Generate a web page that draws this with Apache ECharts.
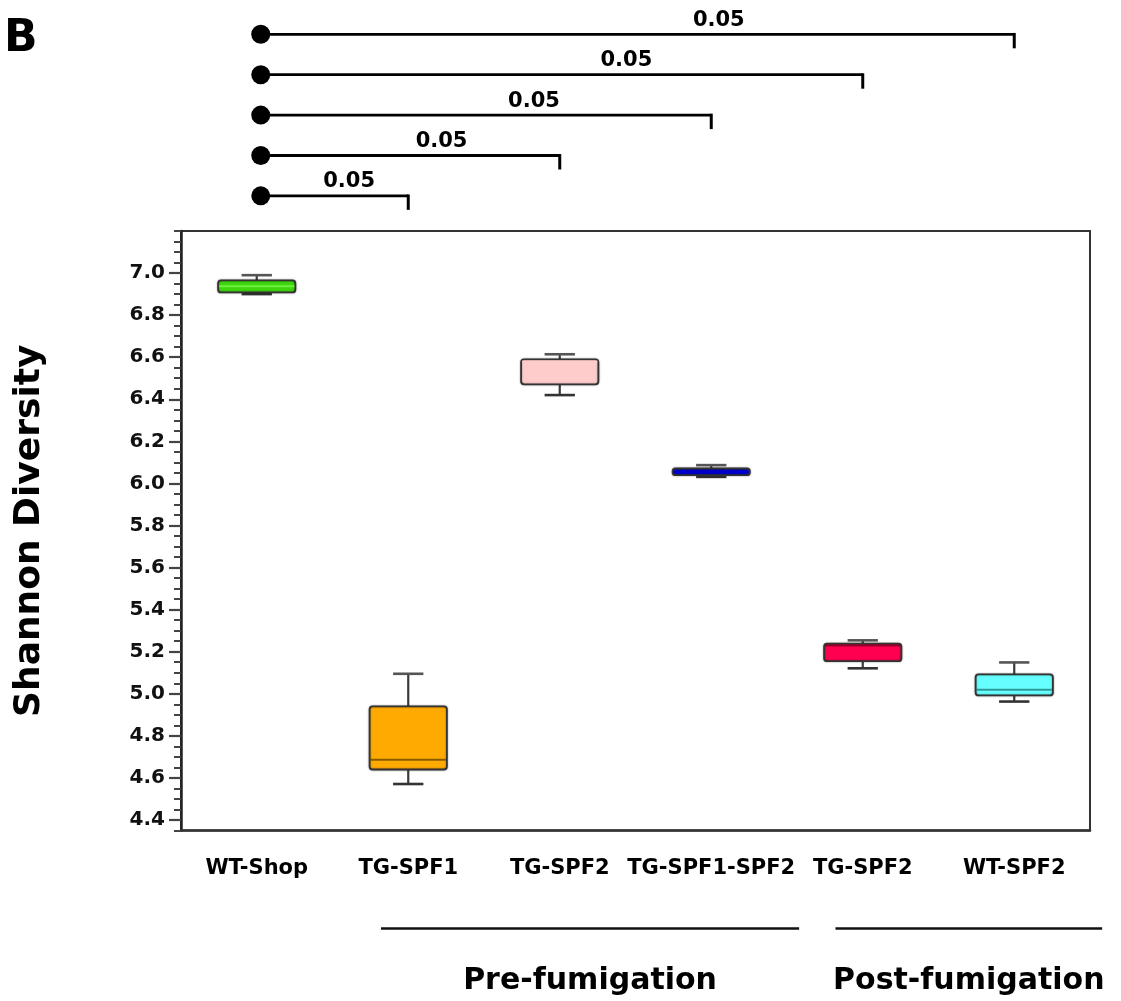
<!DOCTYPE html>
<html>
<head>
<meta charset="utf-8">
<script src="https://cdn.jsdelivr.net/npm/echarts@6/dist/echarts.min.js"></script>
<style>
html,body{margin:0;padding:0;background:#fff;}
#chart{width:1121px;height:1001px;}
</style>
</head>
<body>
<div id="chart"></div>
<script>
// ---- data ----
const categories = ['WT-Shop', 'TG-SPF1', 'TG-SPF2', 'TG-SPF1-SPF2', 'TG-SPF2', 'WT-SPF2'];
const minVals    = [6.900, 4.571, 6.420, 6.031, 5.121, 4.963];
const q1Vals     = [6.908, 4.640, 6.471, 6.039, 5.155, 4.992];
const medianVals = [6.937, 4.686, 6.580, 6.055, 5.230, 5.019];
const q3Vals     = [6.965, 4.940, 6.590, 6.071, 5.238, 5.092];
const maxVals    = [6.990, 5.095, 6.614, 6.087, 5.254, 5.149];
const yTickLabels = [4.4, 4.6, 4.8, 5.0, 5.2, 5.4, 5.6, 5.8, 6.0, 6.2, 6.4, 6.6, 6.8, 7.0];
const yMin = 4.35, yMax = 7.2, yMinorStep = 0.05;
const bracketRef = 0;
const bracketTargets = [5, 4, 3, 2, 1];
const bracketLabels = ['0.05', '0.05', '0.05', '0.05', '0.05'];
const groupNames = ['Pre-fumigation', 'Post-fumigation'];
const groupFrom = [1, 4];
const groupTo = [3, 5];
const panelLabel = 'B';
const yTitle = 'Shannon Diversity';

// ---- styles ----
const boxColors = ['#3fd60f', '#ffaa00', '#ffcccc', '#0000cc', '#ff0050', '#66ffff'];
const medianColors = ['#6cf03c', 'rgba(60,40,0,0.6)', '#ffcccc', '#0000cc', 'rgba(90,0,20,0.6)', 'rgba(0,70,70,0.55)'];
const FONT = 'DejaVu Sans';

const minorTicks = [];
for (let v = yMin; v <= yMax + 1e-9; v += yMinorStep) minorTicks.push(+v.toFixed(2));

const chart = echarts.init(document.getElementById('chart'), null, {renderer: 'canvas'});

function renderBox(params, api) {
  const i = api.value(0);
  const band = api.size([1, 0])[0];
  const bw = band * 0.51, cw = band * 0.2;
  const pMin = api.coord([i, api.value(1)]);
  const pQ1 = api.coord([i, api.value(2)]);
  const pMed = api.coord([i, api.value(3)]);
  const pQ3 = api.coord([i, api.value(4)]);
  const pMax = api.coord([i, api.value(5)]);
  const x = pMin[0];
  const lineStyle = {stroke: '#3a3a3a', lineWidth: 2.2};
  const idx = params.dataIndex;
  return {
    type: 'group',
    children: [
      {type: 'line', shape: {x1: x, y1: pMax[1], x2: x, y2: pQ3[1]}, style: lineStyle},
      {type: 'line', shape: {x1: x, y1: pQ1[1], x2: x, y2: pMin[1]}, style: lineStyle},
      {type: 'line', shape: {x1: x - cw / 2, y1: pMax[1], x2: x + cw / 2, y2: pMax[1]}, style: {stroke: '#555', lineWidth: 2.6}},
      {type: 'line', shape: {x1: x - cw / 2, y1: pMin[1], x2: x + cw / 2, y2: pMin[1]}, style: {stroke: '#333', lineWidth: 2.6}},
      {type: 'rect', shape: {x: x - bw / 2, y: pQ3[1], width: bw, height: Math.max(pQ1[1] - pQ3[1], 4), r: 3},
        style: {fill: boxColors[idx], stroke: '#333', lineWidth: 1.8, shadowBlur: 2, shadowColor: 'rgba(0,0,0,0.35)'}},
      {type: 'line', shape: {x1: x - bw / 2 + 1, y1: pMed[1], x2: x + bw / 2 - 1, y2: pMed[1]}, style: {stroke: medianColors[idx], lineWidth: 2}}
    ]
  };
}

function renderBracket(params, api) {
  const target = api.value(0), row = api.value(1);
  const s = api.coord([bracketRef, row]);
  const e = api.coord([target, row]);
  const lx = s[0] + 0.61 * (e[0] - s[0]);
  return {
    type: 'group',
    children: [
      {type: 'line', shape: {x1: s[0], y1: s[1], x2: e[0], y2: e[1]}, style: {stroke: '#000', lineWidth: 2.8}},
      {type: 'line', shape: {x1: e[0], y1: e[1] - 1.4, x2: e[0], y2: e[1] + 14}, style: {stroke: '#000', lineWidth: 3}},
      {type: 'circle', shape: {cx: s[0] + 4, cy: s[1], r: 9.5}, style: {fill: '#000'}},
      {type: 'text', x: lx, y: s[1] - 14, style: {text: bracketLabels[params.dataIndex], font: 'bold 21px "' + FONT + '"', fill: '#000', align: 'center', verticalAlign: 'middle'}}
    ]
  };
}

function renderGroup(params, api) {
  const band = api.size([1, 0])[0];
  const a = api.coord([api.value(0), yMin]);
  const b = api.coord([api.value(1), yMin]);
  const x1 = a[0] - 0.18 * band, x2 = b[0] + 0.58 * band;
  const ly = a[1] + 98;
  return {
    type: 'group',
    children: [
      {type: 'line', shape: {x1: x1, y1: ly, x2: x2, y2: ly}, style: {stroke: '#111', lineWidth: 2.4}},
      {type: 'text', x: (x1 + x2) / 2, y: a[1] + 151, style: {text: groupNames[params.dataIndex], font: 'bold 30px "' + FONT + '"', fill: '#000', align: 'center', verticalAlign: 'middle'}}
    ]
  };
}

const option = {
  animation: false,
  backgroundColor: '#fff',
  title: {text: panelLabel, left: 4, top: 18, padding: 0, textStyle: {fontFamily: FONT, fontWeight: 'bold', fontSize: 44, color: '#000'}},
  grid: [
    {left: 181, right: 31, top: 231, bottom: 170.5, show: true, borderColor: '#333', borderWidth: 2, backgroundColor: 'transparent'},
    {left: 181, right: 31, top: 0, height: 231}
  ],
  xAxis: [
    {type: 'category', gridIndex: 0, data: categories, boundaryGap: true,
      axisLine: {lineStyle: {color: '#333', width: 2.5}},
      axisTick: {alignWithLabel: true, length: 10, lineStyle: {color: '#555', width: 2.5}},
      axisLabel: {margin: 28, fontFamily: FONT, fontWeight: 'bold', fontSize: 21, color: '#000', interval: 0},
      splitLine: {show: false}},
    {type: 'category', gridIndex: 1, data: categories, boundaryGap: true, show: false}
  ],
  yAxis: [
    {type: 'value', gridIndex: 0, position: 'left', min: yMin, max: yMax,
      name: yTitle, nameLocation: 'middle', nameGap: 133, nameRotate: 90,
      nameTextStyle: {fontFamily: FONT, fontWeight: 'bold', fontSize: 36, color: '#000'},
      axisLine: {show: true, lineStyle: {color: '#222', width: 2.5}},
      axisTick: {show: true, length: 12, customValues: yTickLabels, lineStyle: {color: '#444', width: 2.2}},
      axisLabel: {customValues: yTickLabels, formatter: v => (+v).toFixed(1), margin: 16,
        fontFamily: FONT, fontWeight: 'bold', fontSize: 20, color: '#111'},
      splitLine: {show: false}},
    {type: 'value', gridIndex: 0, position: 'left', min: yMin, max: yMax,
      axisLine: {show: false},
      axisTick: {show: true, length: 7, customValues: minorTicks, lineStyle: {color: '#444', width: 2}},
      axisLabel: {show: false}, splitLine: {show: false}},
    {type: 'value', gridIndex: 1, min: -0.85, max: 4.87, inverse: true, show: false}
  ],
  series: [
    {type: 'custom', name: 'Shannon', xAxisIndex: 0, yAxisIndex: 0,
      renderItem: renderBox,
      encode: {x: 0, y: [1, 2, 3, 4, 5]},
      data: categories.map((c, i) => [i, minVals[i], q1Vals[i], medianVals[i], q3Vals[i], maxVals[i]])},
    {type: 'custom', name: 'groups', xAxisIndex: 0, yAxisIndex: 0, clip: false,
      renderItem: renderGroup,
      encode: {x: [0, 1]},
      data: groupNames.map((g, i) => [groupFrom[i], groupTo[i]])},
    {type: 'custom', name: 'brackets', xAxisIndex: 1, yAxisIndex: 2, clip: false,
      renderItem: renderBracket,
      encode: {x: 0, y: 1},
      data: bracketTargets.map((t, r) => [t, r])}
  ]
};
chart.setOption(option);
</script>
</body>
</html>
